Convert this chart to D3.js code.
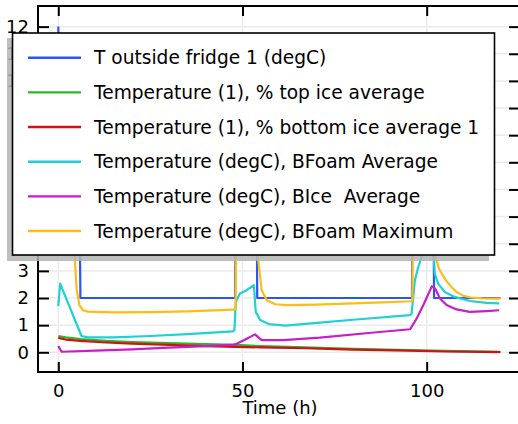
<!DOCTYPE html>
<html><head><meta charset="utf-8">
<script src="https://cdn.jsdelivr.net/npm/d3@7"></script>
<style>body{margin:0;background:#fff}svg{display:block}text{font-family:"DejaVu Sans",sans-serif;}</style>
</head><body><svg id="c" width="518" height="424"></svg>
<script>
// ---- data (time in h, temperature) ----
const seriesNames = ["T outside fridge 1 (degC)","Temperature (1), % top ice average","Temperature (1), % bottom ice average 1","Temperature (degC), BFoam Average","Temperature (degC), BIce  Average","Temperature (degC), BFoam Maximum"];
const seriesColors = ["#2a55f2","#2db52d","#d21212","#1fd0d6","#c81ec8","#ffbd14"];
const tOutside = [[0,12],[0.3,10],[5.5,10],[6.0,2],[48.0,2],[48.3,10],[53.7,10],[54.0,2],[96.0,2],[96.3,10],[101.7,10],[102.0,2],[120,2]];
const topIce = [[0,0.6],[2,0.55],[6,0.49],[13,0.42],[20,0.38],[30,0.34],[40,0.3],[48,0.27],[55,0.23],[67,0.18],[80,0.13],[95,0.08],[105,0.05],[120,0.02]];
const bottomIce = [[0,0.53],[2,0.47],[6,0.42],[13,0.36],[20,0.32],[30,0.27],[40,0.23],[48,0.2],[55,0.18],[67,0.15],[80,0.1],[95,0.06],[105,0.03],[120,0.01]];
const bFoamAvg = [[0,1.7],[0.5,2.53],[6.3,0.6],[8,0.55],[15,0.55],[25,0.6],[35,0.67],[47.4,0.77],[47.8,0.82],[48.2,1.86],[49.3,2.17],[51.1,2.29],[53.1,2.47],[53.6,1.49],[54.8,1.19],[57.1,1.04],[61.7,0.98],[71,1.09],[80,1.2],[95.5,1.37],[95.9,1.42],[96.8,2.65],[97.7,3.14],[98.6,3.5],[100,3.9],[101.5,4.1],[101.9,3.6],[102.2,2.9],[103.1,2.53],[104.9,2.22],[107.6,2.04],[111.7,1.89],[116.3,1.82],[119.7,1.8]];
const bIceAvg = [[0,0.23],[0.9,0.02],[10,0.06],[20,0.11],[30,0.17],[40,0.23],[47.5,0.28],[48,0.29],[50.5,0.45],[53.4,0.66],[55.2,0.45],[61.1,0.45],[71,0.54],[85,0.72],[95.5,0.85],[97.3,1.25],[99.1,1.74],[101.4,2.43],[102.3,2.35],[103.6,1.98],[105.4,1.74],[108.1,1.58],[111.7,1.49],[116.3,1.52],[119.7,1.55]];
const bFoamMax = [[0,8],[4.2,10.3],[4.45,3.55],[5.0,2.3],[5.7,1.75],[6.7,1.55],[8,1.5],[15,1.47],[25,1.48],[35,1.51],[47.6,1.57],[48.1,1.6],[48.5,9.5],[53.9,10.3],[54.2,3.5],[55.2,2.29],[56.6,1.92],[58.9,1.77],[62,1.74],[70,1.76],[80,1.8],[90,1.85],[95.7,1.88],[96.1,1.9],[96.5,9.5],[101.9,10.3],[102.2,3.6],[103.3,3.1],[104.3,2.85],[105.4,2.62],[106.8,2.4],[108.1,2.22],[110,2.08],[112,2.02],[115,1.99],[120,1.98]];
const allSeries = [tOutside, topIce, bottomIce, bFoamAvg, bIceAvg, bFoamMax];
const xTicks = [0,50,100];
const yTicks = [0,1,2,3,4,5,6,7,8,9,10,11,12];
const xLabel = "Time (h)";

const svg = d3.select("#c");
const L=38, R=519, T=6, B=372;
const x = d3.scaleLinear().domain([-5.51,125.06]).range([L,R]);
const y = d3.scaleLinear().domain([-0.726,12.76]).range([B,T]);

// grid
const g = svg.append("g");
g.selectAll(".gx").data(xTicks).enter().append("line")
  .attr("x1",d=>x(d)).attr("x2",d=>x(d)).attr("y1",T).attr("y2",B)
  .attr("stroke","#ebebeb").attr("stroke-width",1.5);
g.selectAll(".gy").data(yTicks).enter().append("line")
  .attr("y1",d=>y(d)).attr("y2",d=>y(d)).attr("x1",L).attr("x2",R)
  .attr("stroke","#ebebeb").attr("stroke-width",1.5);

svg.append("clipPath").attr("id","clip").append("rect").attr("x",L).attr("y",T).attr("width",R-L).attr("height",B-T);
const line = d3.line().x(d=>x(d[0])).y(d=>y(d[1]));
svg.append("g").attr("clip-path","url(#clip)").selectAll("path").data(allSeries).enter().append("path")
  .attr("d",line).attr("fill","none").attr("stroke",(d,i)=>seriesColors[i]).attr("stroke-width",2.2)
  .attr("stroke-linejoin","round");

// axes
const fs = "18px";
const ax = svg.append("g").attr("transform",`translate(${L},0)`).call(d3.axisLeft(y).tickValues(yTicks).tickSize(-11).tickPadding(9).tickFormat(d3.format("d")));
const bx = svg.append("g").attr("transform",`translate(0,${B})`).call(d3.axisBottom(x).tickValues(xTicks).tickSize(-10).tickPadding(12));
const tx = svg.append("g").attr("transform",`translate(0,${T})`).call(d3.axisTop(x).tickValues(xTicks).tickSize(-10).tickFormat(""));
const rx = svg.append("g").attr("transform",`translate(${R},0)`).call(d3.axisRight(y).tickValues(yTicks).tickSize(-10).tickFormat(""));
[ax,bx,tx,rx].forEach(a=>{a.select(".domain").remove();a.selectAll("line").attr("stroke","#000").attr("stroke-width",2);
  a.selectAll("text").attr("font-family","DejaVu Sans").attr("font-size",fs).attr("fill","#000");});
svg.append("rect").attr("x",L).attr("y",T).attr("width",R-L).attr("height",B-T).attr("fill","none").attr("stroke","#000").attr("stroke-width",2);
svg.append("text").attr("x",280).attr("y",414).attr("text-anchor","middle").attr("font-size",fs).attr("fill","#000").text(xLabel);

// legend
svg.append("rect").attr("x",7).attr("y",38).attr("width",482).attr("height",223).attr("fill","#b4b4b4").attr("opacity",0.85);
svg.append("rect").attr("x",12.5).attr("y",33).attr("width",482).attr("height",222).attr("fill","#fff").attr("stroke","#000").attr("stroke-width",1.6);
const lg = svg.append("g").selectAll("g").data(seriesNames).enter().append("g")
  .attr("transform",(d,i)=>`translate(0,${57.7+i*34.66})`);
lg.append("line").attr("x1",28).attr("x2",81).attr("stroke",(d,i)=>seriesColors[i]).attr("stroke-width",2.4);
lg.append("text").attr("x",94).attr("dy","0.36em").attr("font-size","18.6px").attr("fill","#000").style("white-space","pre").text(d=>d);
</script></body></html>
